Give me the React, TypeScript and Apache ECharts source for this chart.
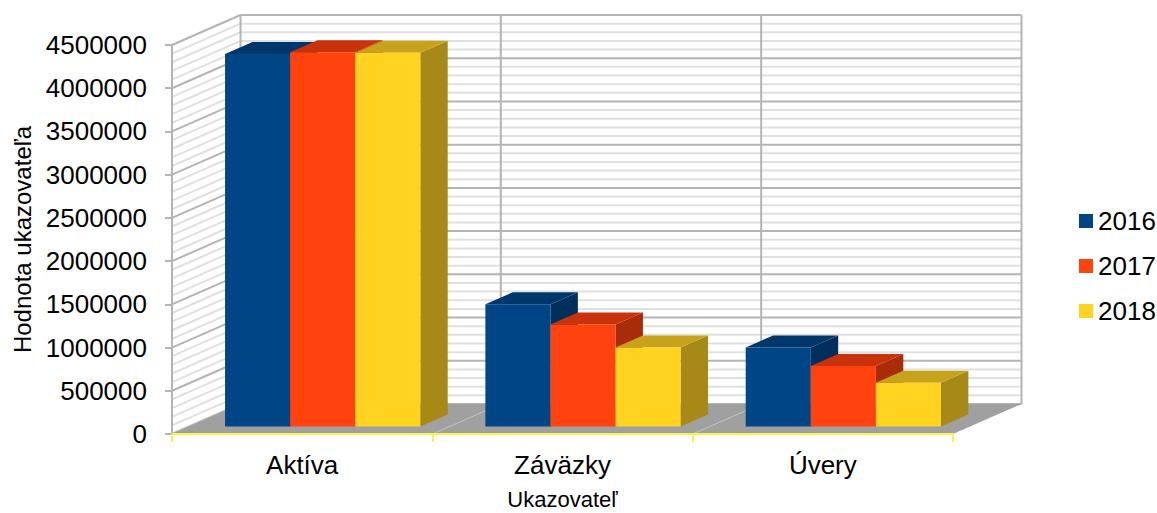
import React, { useEffect, useRef } from "react";
import * as echarts from "echarts";

const CATEGORIES = ["Aktíva", "Záväzky", "Úvery"];
const YEARS = ["2016", "2017", "2018"];
const VALUES_2016 = [4310000, 1415000, 915000];
const VALUES_2017 = [4330000, 1180000, 700000];
const VALUES_2018 = [4325000, 915000, 505000];
const SERIES_VALUES = [VALUES_2016, VALUES_2017, VALUES_2018];
const Y_MIN = 0;
const Y_MAX = 4500000;
const Y_INTERVAL = 500000;
const Y_MINOR = 100000;

const FRONT_COLORS = ["#004586", "#ff420e", "#ffd320"];
const TOP_COLORS = ["#00376b", "#c9330b", "#c6a31a"];
const SIDE_COLORS = ["#002f5c", "#a82c09", "#a68916"];

const WALL_DX = 68.5;
const WALL_DY = -30;
const BAR_FRONT = 0.25;
const BAR_BACK = 0.65;
const BAR_OFFSET = 0.138;
const BAR_WIDTH = 0.25;
const FONT = "Liberation Sans, Arial, sans-serif";

function renderWalls(params: any, api: any) {
  const band = api.size([1, 0])[0];
  const xl = api.coord([0, Y_MIN])[0] - band / 2;
  const xr = api.coord([CATEGORIES.length - 1, Y_MIN])[0] + band / 2;
  const yb = api.coord([0, Y_MIN])[1];
  const yt = api.coord([0, Y_MAX])[1];
  const dx = WALL_DX;
  const dy = WALL_DY;
  const children: any[] = [];
  children.push({
    type: "rect",
    shape: { x: xl + dx, y: yt + dy, width: xr - xl, height: yb - yt },
    style: { fill: "#ffffff" },
  });
  children.push({
    type: "polygon",
    shape: { points: [[xl, yt], [xl + dx, yt + dy], [xl + dx, yb + dy], [xl, yb]] },
    style: { fill: "#ffffff" },
  });
  const nMinor = Math.round((Y_MAX - Y_MIN) / Y_MINOR);
  for (let k = 0; k <= nMinor; k++) {
    const v = Y_MIN + k * Y_MINOR;
    const y = api.coord([0, v])[1];
    const major = Math.round(v / Y_MINOR) % Math.round(Y_INTERVAL / Y_MINOR) === 0;
    const stroke = major ? "#b4b4b4" : "#e0e0e0";
    children.push({
      type: "line",
      shape: { x1: xl + dx, y1: y + dy, x2: xr + dx, y2: y + dy },
      style: { stroke, lineWidth: 2 },
      z2: major ? 2 : 1,
    });
    children.push({
      type: "line",
      shape: { x1: xl, y1: y, x2: xl + dx, y2: y + dy },
      style: { stroke, lineWidth: 2 },
      z2: major ? 2 : 1,
    });
  }
  for (let c = 0; c <= CATEGORIES.length; c++) {
    const x = xl + c * band + dx;
    children.push({
      type: "line",
      shape: { x1: x, y1: yt + dy, x2: x, y2: yb + dy },
      style: { stroke: "#b4b4b4", lineWidth: 2 },
      z2: 3,
    });
  }
  children.push({
    type: "polygon",
    shape: { points: [[xl, yb], [xr, yb], [xr + dx, yb + dy], [xl + dx, yb + dy]] },
    style: { fill: "#a0a0a0" },
    z2: 4,
  });
  for (let c = 1; c < CATEGORIES.length; c++) {
    const x = xl + c * band;
    children.push({
      type: "line",
      shape: { x1: x, y1: yb, x2: x + dx, y2: yb + dy },
      style: { stroke: "#c4c4c4", lineWidth: 1 },
      z2: 5,
    });
  }
  return { type: "group", children };
}

function makeBarRenderer(si: number) {
  return function (params: any, api: any) {
    const cat = api.value(0);
    const val = api.value(1);
    const [cx, y0] = api.coord([cat, Y_MIN]);
    const y1 = api.coord([cat, val])[1];
    const band = api.size([1, 0])[0];
    const fx = WALL_DX * BAR_FRONT;
    const fy = WALL_DY * BAR_FRONT;
    const ddx = WALL_DX * (BAR_BACK - BAR_FRONT);
    const ddy = WALL_DY * (BAR_BACK - BAR_FRONT);
    const x0 = cx - band / 2 + band * BAR_OFFSET + si * band * BAR_WIDTH + fx;
    const x1 = x0 + band * BAR_WIDTH;
    const b0 = y0 + fy;
    const b1 = y1 + fy;
    return {
      type: "group",
      children: [
        {
          type: "polygon",
          shape: { points: [[x1, b1], [x1 + ddx, b1 + ddy], [x1 + ddx, b0 + ddy], [x1, b0]] },
          style: { fill: SIDE_COLORS[si] },
        },
        {
          type: "polygon",
          shape: { points: [[x0, b1], [x1, b1], [x1 + ddx, b1 + ddy], [x0 + ddx, b1 + ddy]] },
          style: { fill: TOP_COLORS[si] },
        },
        {
          type: "rect",
          shape: { x: x0, y: b1, width: x1 - x0, height: b0 - b1 },
          style: { fill: FRONT_COLORS[si] },
        },
      ],
    };
  };
}

export default function App() {
  const ref = useRef<HTMLDivElement>(null);
  useEffect(() => {
    document.body.style.margin = "0";
    const chart = echarts.init(ref.current!, undefined, { renderer: "svg" });
    const series: any[] = [
      {
        type: "custom",
        name: "walls",
        z: 1,
        silent: true,
        clip: false,
        renderItem: renderWalls,
        data: [[0, 0]],
        encode: { x: 0, y: 1 },
      },
    ];
    YEARS.forEach((yr, si) => {
      series.push({
        type: "custom",
        name: yr,
        z: 2 + si,
        clip: false,
        itemStyle: { color: FRONT_COLORS[si] },
        renderItem: makeBarRenderer(si),
        data: CATEGORIES.map((_, j) => [j, SERIES_VALUES[si][j]]),
        encode: { x: 0, y: 1 },
      });
    });
    chart.setOption({
      animation: false,
      backgroundColor: "#ffffff",
      textStyle: { fontFamily: FONT },
      grid: {
        left: 172,
        right: 204,
        top: 45,
        bottom: 79,
        containLabel: false,
        outerBoundsMode: "none",
      },
      legend: {
        data: YEARS,
        orient: "vertical",
        left: 1074,
        top: 203,
        icon: "rect",
        itemWidth: 14,
        itemHeight: 14,
        itemGap: 19,
        textStyle: { fontSize: 26, color: "#000", fontFamily: FONT },
      },
      xAxis: {
        type: "category",
        data: CATEGORIES,
        z: 10,
        name: "Ukazovateľ",
        nameLocation: "middle",
        nameGap: 54,
        nameTextStyle: { fontSize: 22, color: "#000", fontFamily: FONT },
        axisLine: { lineStyle: { color: "#f5f54a", width: 2 } },
        axisTick: { show: true, length: 8, lineStyle: { color: "#f5f54a", width: 2 } },
        axisLabel: { fontSize: 26, color: "#000", margin: 18, fontFamily: FONT },
        splitLine: { show: false },
      },
      yAxis: {
        type: "value",
        min: Y_MIN,
        max: Y_MAX,
        interval: Y_INTERVAL,
        z: 10,
        name: "Hodnota ukazovateľa",
        nameLocation: "middle",
        nameGap: 137,
        nameTextStyle: { fontSize: 24, color: "#000", fontFamily: FONT },
        axisLine: { show: true, lineStyle: { color: "#b4b4b4", width: 2 } },
        axisTick: { show: true, length: 7, lineStyle: { color: "#b4b4b4", width: 2 } },
        axisLabel: {
          fontSize: 26,
          color: "#000",
          margin: 25,
          fontFamily: FONT,
          formatter: (v: number) => String(v),
        },
        splitLine: { show: false },
      },
      series,
    });
    return () => chart.dispose();
  }, []);
  return <div ref={ref} style={{ width: 1157, height: 513 }} />;
}
